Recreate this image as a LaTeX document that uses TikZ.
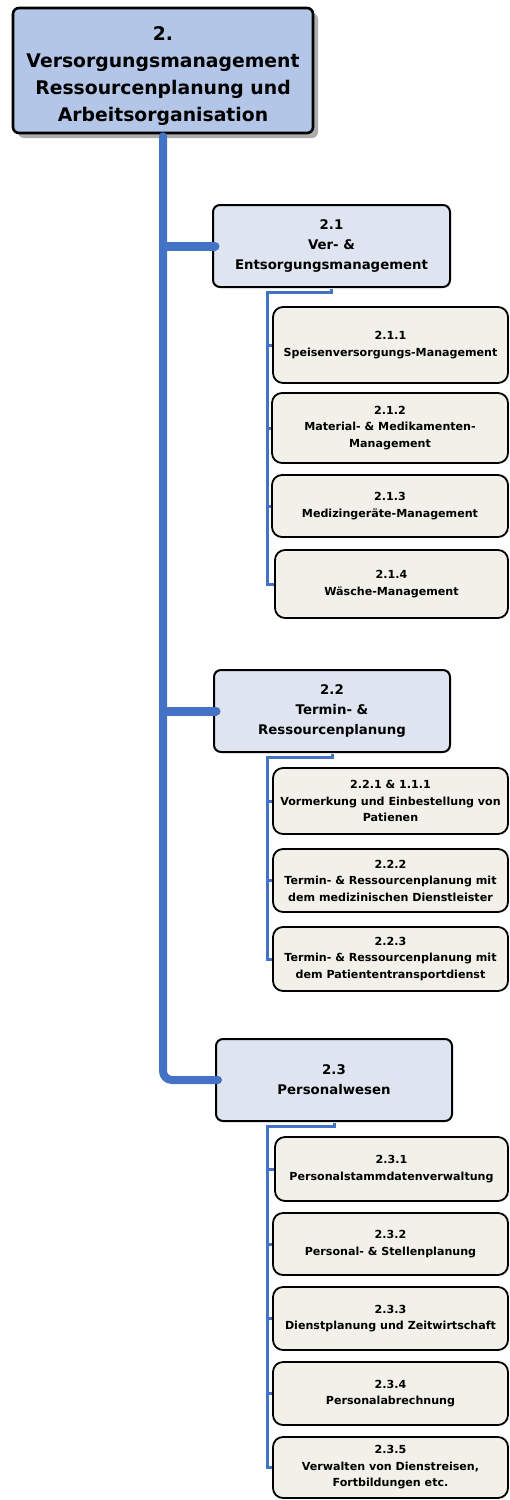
\documentclass[tikz,border=0pt]{standalone}
\usepackage{fontspec}
\setmainfont{DejaVu Sans}
\usetikzlibrary{shadows}
\definecolor{topfill}{HTML}{B4C6E7}
\definecolor{midfill}{HTML}{DEE5F1}
\definecolor{leaffill}{HTML}{F1F1E9}
\definecolor{trunkblue}{HTML}{4472C4}
\tikzset{
  rootbox/.style={draw=black, line width=2.6pt, rounded corners=6pt, fill=topfill, align=center, inner sep=2pt,
    font=\fontsize{18.8}{27}\selectfont\bfseries,
    drop shadow={shadow xshift=5pt, shadow yshift=-5pt, fill=black!32, opacity=1}},
  midbox/.style={draw=black, line width=2pt, rounded corners=7pt, fill=midfill, align=center, inner sep=2pt,
    font=\fontsize{13.3}{20}\selectfont\bfseries},
  leafbox/.style={draw=black, line width=1.8pt, rounded corners=10pt, fill=leaffill, align=center, inner sep=2pt,
    font=\fontsize{11.1}{16.5}\selectfont\bfseries},
  trunk/.style={draw=trunkblue, line width=8pt, line cap=round, rounded corners=9pt},
  branch/.style={draw=trunkblue, line width=9pt, line cap=round},
  sub/.style={draw=trunkblue, line width=3pt},
}
\begin{document}
\begin{tikzpicture}[x=1pt,y=-1pt]
\useasboundingbox (0,0) rectangle (509,1500);

\node[rootbox, minimum width=300pt, minimum height=125pt] (top) at (163,70.5) {\rule{0pt}{25pt}2.\\Versorgungsmanagement\\Ressourcenplanung und\\Arbeitsorganisation};

\node[midbox, minimum width=237pt, minimum height=82pt] (b21) at (331.5,246) {2.1\\Ver- \&\\Entsorgungsmanagement};
\node[midbox, minimum width=236pt, minimum height=82pt] (b22) at (332,711) {2.2\\Termin- \&\\Ressourcenplanung};
\node[midbox, minimum width=236pt, minimum height=82pt] (b23) at (334,1080) {2.3\\Personalwesen};

\node[leafbox, minimum width=235pt, minimum height=76pt] (b211) at (390.5,345) {2.1.1\\Speisenversorgungs-Management};
\node[leafbox, minimum width=236pt, minimum height=70pt] (b212) at (390,428) {2.1.2\\Material- \& Medikamenten-\\Management};
\node[leafbox, minimum width=236pt, minimum height=62pt] (b213) at (390,506) {2.1.3\\Medizingeräte-Management};
\node[leafbox, minimum width=233pt, minimum height=68pt] (b214) at (391.5,584) {2.1.4\\Wäsche-Management};

\node[leafbox, minimum width=235pt, minimum height=66pt] (b221) at (390.5,801) {2.2.1 \& 1.1.1\\Vormerkung und Einbestellung von\\Patienen};
\node[leafbox, minimum width=235pt, minimum height=63pt] (b222) at (390.5,880.5) {2.2.2\\Termin- \& Ressourcenplanung mit\\dem medizinischen Dienstleister};
\node[leafbox, minimum width=235pt, minimum height=64pt] (b223) at (390.5,959) {2.2.3\\Termin- \& Ressourcenplanung mit\\dem Patiententransportdienst};

\node[leafbox, minimum width=233pt, minimum height=64pt] (b231) at (391.5,1169) {2.3.1\\Personalstammdatenverwaltung};
\node[leafbox, minimum width=235pt, minimum height=62pt] (b232) at (390.5,1244) {2.3.2\\Personal- \& Stellenplanung};
\node[leafbox, minimum width=235pt, minimum height=63pt] (b233) at (390.5,1318.5) {2.3.3\\Dienstplanung und Zeitwirtschaft};
\node[leafbox, minimum width=235pt, minimum height=63pt] (b234) at (390.5,1393.5) {2.3.4\\Personalabrechnung};
\node[leafbox, minimum width=235pt, minimum height=61pt] (b235) at (390.5,1467.5) {2.3.5\\Verwalten von Dienstreisen,\\Fortbildungen etc.};

\coordinate (c21) at (267,292);
\coordinate (c22) at (267,757);
\coordinate (c23) at (267,1126);

% main trunk and branches
\draw[trunk] ([yshift=-2pt]top.south) -- (top.south |- b23.west) -- ([xshift=3pt]b23.west);
\draw[branch] ([xshift=4pt]top.south |- b21.west) -- ([xshift=3pt]b21.west);
\draw[branch] ([xshift=4pt]top.south |- b22.west) -- ([xshift=3pt]b22.west);

% sub connectors
\draw[sub] ([yshift=-1pt]b21.south) |- (c21) -- (c21 |- b214.west) -- (b214.west);
\draw[sub] (c21 |- b211.west) -- (b211.west);
\draw[sub] (c21 |- b212.west) -- (b212.west);
\draw[sub] (c21 |- b213.west) -- (b213.west);

\draw[sub] ([yshift=-1pt]b22.south) |- (c22) -- (c22 |- b223.west) -- (b223.west);
\draw[sub] (c22 |- b221.west) -- (b221.west);
\draw[sub] (c22 |- b222.west) -- (b222.west);

\draw[sub] ([yshift=-1pt]b23.south) |- (c23) -- (c23 |- b235.west) -- (b235.west);
\draw[sub] (c23 |- b231.west) -- (b231.west);
\draw[sub] (c23 |- b232.west) -- (b232.west);
\draw[sub] (c23 |- b233.west) -- (b233.west);
\draw[sub] (c23 |- b234.west) -- (b234.west);
\end{tikzpicture}
\end{document}
